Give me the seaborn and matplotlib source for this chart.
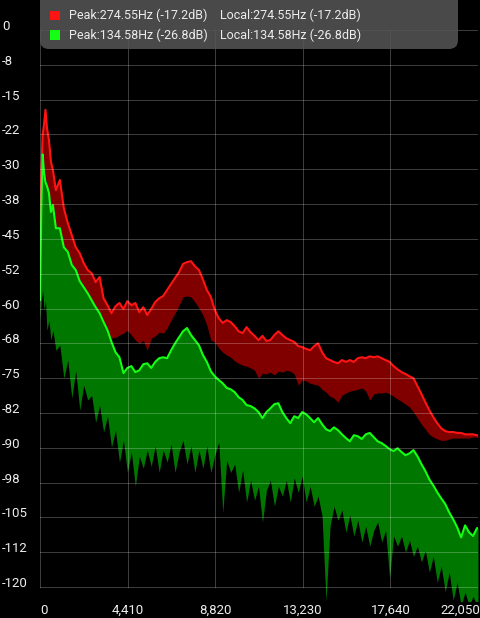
import matplotlib
matplotlib.use("Agg")
import matplotlib.pyplot as plt
import seaborn as sns
from matplotlib.patches import FancyBboxPatch, Rectangle

# dark analyzer look
sns.set_theme(style="dark", rc={"axes.facecolor": "black", "figure.facecolor": "black"})
plt.rcParams["font.family"] = ["Roboto", "DejaVu Sans"]

# frequency bins (Hz)
freqs = [0, 70, 135, 200, 275, 350, 450, 550, 650, 800] + list(range(1000, 22001, 200)) + [22050]

# channel 1 (red): peak line and lower edge of the band (dB)
red_peak = [
    -45.3, -30.2, -22.6, -20.5, -17.2, -21.1, -23.7, -28.4, -30.2, -34.5,
    -32.3, -38.4, -41.6, -44.2, -46.8, -48.1, -50.2, -51.7, -52.4, -54.3,
    -53.2, -57.8, -59.3, -61.0, -59.5, -58.8, -60.1, -58.4, -59.3, -58.8,
    -60.8, -59.7, -61.4, -60.1, -58.6, -57.8, -57.3, -56.0, -54.7, -53.4,
    -52.2, -50.4, -50.0, -49.8, -50.9, -51.7, -53.7, -56.0, -57.5, -60.3,
    -62.1, -63.1, -62.5, -62.9, -63.8, -64.9, -65.3, -64.0, -65.1, -65.9,
    -66.8, -65.9, -67.0, -66.8, -65.7, -64.9, -65.7, -66.4, -66.8, -67.2,
    -68.1, -68.3, -68.7, -69.0, -68.1, -67.5, -69.4, -70.7, -71.1, -71.5,
    -71.8, -71.1, -71.5, -71.1, -71.5, -70.7, -70.5, -70.7, -70.3, -70.5,
    -70.3, -70.7, -71.1, -71.5, -72.4, -73.1, -73.7, -74.1, -74.6, -75.0,
    -76.7, -78.4, -80.2, -81.9, -83.4, -84.7, -85.8, -86.4, -86.6, -86.6,
    -86.8, -86.8, -87.1, -87.1, -87.1, -87.3, -87.3,
]
red_floor = [
    -49.1, -36.6, -31.9, -32.3, -31.2, -34.5, -36.6, -39.9, -41.4, -44.2,
    -45.3, -47.4, -49.1, -51.3, -53.0, -55.0, -56.7, -57.8, -59.3, -60.8,
    -62.1, -63.6, -65.1, -66.4, -66.2, -65.7, -65.3, -64.7, -65.7, -66.8,
    -67.5, -66.8, -69.0, -66.4, -65.9, -65.1, -65.3, -64.2, -62.5, -61.0,
    -59.3, -57.5, -57.3, -57.5, -58.6, -59.9, -61.4, -63.6, -66.8, -67.2,
    -68.5, -69.4, -70.0, -70.5, -71.3, -71.8, -72.2, -72.4, -72.8, -73.3,
    -75.0, -73.9, -74.1, -73.7, -74.3, -73.5, -73.7, -73.3, -73.5, -74.1,
    -76.5, -75.4, -75.6, -76.1, -76.3, -76.5, -77.4, -78.0, -78.9, -79.3,
    -80.2, -78.7, -78.2, -77.8, -77.6, -77.4, -77.1, -77.8, -79.7, -78.4,
    -78.2, -78.2, -78.0, -78.4, -78.9, -79.5, -80.0, -80.6, -81.2, -82.3,
    -83.6, -84.9, -86.0, -87.1, -87.7, -88.1, -88.4, -88.4, -88.1, -87.9,
    -87.9, -87.9, -87.9, -87.9, -87.7, -87.7, -87.7,
]

# channel 2 (green)
green_peak = [
    -58.2, -37.7, -26.8, -30.6, -32.8, -33.6, -35.1, -39.2, -37.7, -42.7,
    -42.7, -46.8, -47.8, -50.6, -51.7, -54.1, -55.4, -56.7, -58.2, -59.7,
    -61.0, -62.9, -64.7, -67.2, -69.4, -70.5, -73.9, -72.8, -72.4, -73.7,
    -73.3, -72.0, -71.8, -72.8, -71.5, -70.7, -70.5, -70.7, -69.0, -67.5,
    -66.2, -64.9, -64.2, -65.7, -66.8, -67.9, -70.0, -71.5, -73.5, -74.6,
    -75.4, -76.1, -77.1, -77.4, -78.0, -79.1, -79.7, -80.8, -81.0, -81.5,
    -82.3, -83.6, -82.3, -81.5, -80.6, -80.4, -82.3, -83.6, -84.7, -83.2,
    -83.6, -82.3, -82.8, -83.6, -84.5, -83.6, -84.9, -86.0, -86.4, -85.6,
    -86.2, -87.1, -87.9, -88.6, -87.3, -87.5, -88.1, -87.1, -86.8, -87.7,
    -88.6, -89.0, -89.6, -90.3, -90.7, -90.1, -90.9, -91.6, -91.2, -90.5,
    -91.8, -93.5, -95.0, -96.8, -98.1, -99.6, -100.9, -102.1, -103.9, -105.4,
    -107.1, -109.3, -106.7, -108.2, -109.0, -107.3, -107.3,
]
green_floor = [
    -62.5, -58.2, -56.0, -60.3, -58.2, -64.7, -62.5, -66.8, -64.7, -69.0,
    -67.9, -75.0, -71.1, -79.3, -73.3, -81.9, -76.5, -79.7, -78.7, -84.5,
    -80.8, -86.6, -83.2, -89.9, -86.2, -93.1, -88.4, -95.3, -90.9, -98.3,
    -91.8, -94.4, -90.5, -94.0, -89.6, -95.3, -90.5, -93.1, -89.2, -95.3,
    -90.9, -88.4, -93.5, -89.6, -95.3, -90.5, -94.4, -89.6, -95.3, -91.6,
    -88.8, -103.9, -92.7, -95.3, -93.5, -99.6, -94.8, -101.7, -97.0, -101.3,
    -98.3, -106.0, -99.1, -97.0, -102.6, -98.3, -100.4, -97.0, -101.7, -96.5,
    -99.6, -96.1, -101.7, -98.3, -102.6, -100.4, -104.7, -123.0, -106.9, -102.6,
    -105.6, -103.4, -108.2, -104.5, -109.0, -105.6, -110.3, -106.9, -111.2, -107.8,
    -106.0, -110.3, -107.8, -118.1, -109.0, -111.2, -109.0, -112.5, -109.9, -113.4,
    -111.2, -114.6, -112.1, -116.8, -113.4, -119.0, -115.5, -121.0, -116.8, -122.8,
    -119.0, -124.0, -121.1, -124.0, -122.0, -124.0, -124.0,
]

x_ticks = [0, 4410, 8820, 13230, 17640, 22050]
x_tick_labels = ["0", "4,410", "8,820", "13,230", "17,640", "22,050"]
y_ticks = [0, -7.5, -15, -22.5, -30, -37.5, -45, -52.5, -60, -67.5, -75,
           -82.5, -90, -97.5, -105, -112.5, -120]
y_tick_labels = ["0", "-8", "-15", "-22", "-30", "-38", "-45", "-52", "-60",
                 "-68", "-75", "-82", "-90", "-98", "-105", "-112", "-120"]

peak_labels = ["Peak:274.55Hz (-17.2dB)", "Peak:134.58Hz (-26.8dB)"]
local_labels = ["Local:274.55Hz (-17.2dB)", "Local:134.58Hz (-26.8dB)"]
series_colors = ["#ff1414", "#14ff14"]

W, H = 480, 618
fig = plt.figure(figsize=(W / 100, H / 100), dpi=100)
ax = fig.add_axes([40 / W, 1 - 601 / H, 438 / W, 571 / H])
ax.set_xlim(0, 22050)
ax.set_ylim(-123, 0)
ax.set_axis_off()

# red band + peak line
ax.fill_between(freqs, red_floor, red_peak, color="#800000", lw=0, zorder=1)
sns.lineplot(x=freqs, y=red_peak, color=series_colors[0], lw=1.5, ax=ax, zorder=2)
# green band + peak line
ax.fill_between(freqs, green_floor, green_peak, color="#007800", lw=0, zorder=3)
sns.lineplot(x=freqs, y=green_peak, color=series_colors[1], lw=1.5, ax=ax, zorder=4)

# grid on top, translucent, one pixel wide
grid_kw = dict(colors="white", alpha=0.24, lw=0.72, zorder=5, antialiased=False)
ax.hlines(y_ticks, 0, 22050, **grid_kw)
ax.vlines(x_ticks, -120, 0, **grid_kw)

# tick labels
for v, lab in zip(y_ticks, y_tick_labels):
    ax.annotate(lab, xy=(0, v), xycoords=("axes fraction", "data"),
                xytext=(-38, 0), textcoords="offset pixels",
                ha="left", va="baseline", fontsize=9.5, color="#eeeeee",
                annotation_clip=False)
for i, (v, lab) in enumerate(zip(x_ticks, x_tick_labels)):
    ha = "left" if i == 0 else ("right" if i == len(x_ticks) - 1 else "center")
    dx = 2 if i == len(x_ticks) - 1 else 0
    ax.annotate(lab, xy=(v, -120), xycoords="data",
                xytext=(dx, -27), textcoords="offset pixels",
                ha=ha, va="baseline", fontsize=9.5, color="#eeeeee",
                annotation_clip=False)

# legend panel (pixel space overlay)
ov = fig.add_axes([0, 0, 1, 1], zorder=10)
ov.set_xlim(0, W)
ov.set_ylim(H, 0)
ov.set_axis_off()
ov.patch.set_alpha(0)
ov.add_patch(FancyBboxPatch((40, -10), 418, 59, boxstyle="round,pad=0,rounding_size=9",
                            facecolor=(0.33, 0.33, 0.33), alpha=0.88, lw=0))
for i in range(2):
    yc = 15.5 + 19.5 * i
    ov.add_patch(Rectangle((49.5, yc - 4.8), 10, 9.6, facecolor=series_colors[i], lw=0))
    ov.text(69, yc, peak_labels[i], ha="left", va="center", fontsize=9, color="#ececec")
    ov.text(220.5, yc, local_labels[i], ha="left", va="center", fontsize=9, color="#ececec")

fig.savefig("out.png", dpi=100, facecolor="black")
